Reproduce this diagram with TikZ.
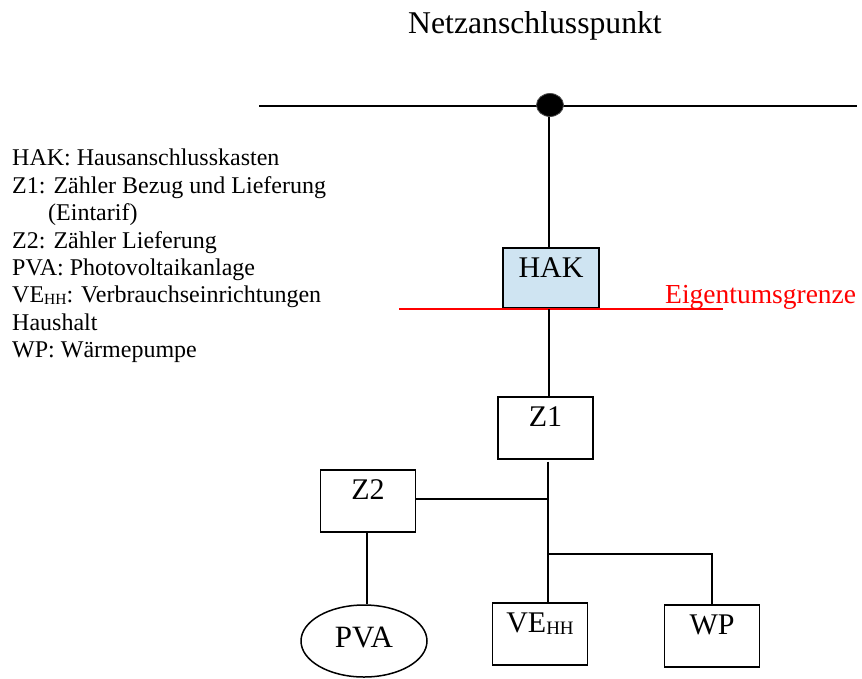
\documentclass[tikz,border=0pt]{standalone}
\usepackage{fontspec}
\setmainfont{Liberation Serif}
\usetikzlibrary{shapes.geometric,calc}
\definecolor{hakfill}{HTML}{CFE4F2}
\definecolor{grenzred}{HTML}{FF0000}
\tikzset{
  wire/.style={line width=1.5pt, black},
  boxnode/.style={draw, line width=1.5pt, minimum width=95pt, minimum height=62pt,
    inner xsep=0pt, inner ysep=9pt, text height=21pt, text depth=23pt, anchor=north,
    font=\fontsize{30}{30}\selectfont},
  legendtext/.style={align=left, inner sep=0pt, anchor=north west,
    font=\fontsize{24}{27.4}\selectfont},
}
\begin{document}
\begin{tikzpicture}[x=1pt,y=-1pt]
\useasboundingbox (0,0) rectangle (862,678);
% title
\node[anchor=base, inner sep=0pt, font=\fontsize{31.7}{32}\selectfont] (title) at (535,33) {Netzanschlusspunkt};
% main line and connection point
\coordinate (mainL) at (259,106);
\coordinate (mainR) at (857,106);
\draw[wire] (mainL) -- (mainR);
\node[ellipse, fill=black, draw=black!70, line width=0.8pt, minimum width=27pt, minimum height=23pt, inner sep=0pt] (dot) at (550,105) {};
% legend
\node[legendtext] (legend) at (12,149) {HAK: Hausanschlusskasten\\
Z1: Zähler Bezug und Lieferung\\
\hspace*{36pt}(Eintarif)\\
Z2: Zähler Lieferung\\
PVA: Photovoltaikanlage\\
VE\raisebox{-1.5pt}{\fontsize{15.5}{15.5}\selectfont HH}: Verbrauchseinrichtungen\\
Haushalt\\
WP: Wärmepumpe};
% boxes
\node[boxnode, fill=hakfill, minimum width=96pt, minimum height=60pt, text depth=21pt] (HAK) at (551,247) {HAK};
\node[boxnode] (Z1) at (545.5,396) {Z1};
\node[boxnode] (Z2) at (368,469) {Z2};
\node[boxnode] (VE) at (540,602) {VE\raisebox{-2pt}{\fontsize{19}{19}\selectfont HH}};
\node[boxnode] (WP) at (712,604) {WP};
\node[ellipse, draw, line width=1.5pt, minimum width=126pt, minimum height=72pt, inner sep=0pt,
  text height=21pt, text depth=9pt, font=\fontsize{31}{31}\selectfont] (PVA) at (364,641) {PVA};
% property boundary
\coordinate (grenzeL) at (399,309);
\coordinate (grenzeR) at (723,309);
\draw[line width=1.5pt, grenzred] (grenzeL) -- (grenzeR);
\node[anchor=base west, inner sep=0pt, text=grenzred, font=\fontsize{27.5}{28}\selectfont] (grenze) at (665,303) {Eigentumsgrenze};
% connectors
\coordinate (trunkA) at (549,0);
\coordinate (trunkB) at (548,0);
\coordinate (branch) at (548,554);
\draw[wire] (dot.south -| trunkA) -- (HAK.north -| trunkA);
\draw[wire] (grenzeL -| trunkA) -- (Z1.north -| trunkA);
\draw[wire] ($(Z1.south -| trunkB)+(0,2)$) -- (VE.north -| trunkB);
\draw[wire] ($(Z2.east)+(0,-2)$) -- ($(Z2.east -| trunkB)+(0,-2)$);
\draw[wire] ($(Z2.south)+(-1,0)$) -- ($(Z2.south |- PVA.north)+(-1,0)$);
\draw[wire] (branch) -| (WP.north);
\end{tikzpicture}
\end{document}
